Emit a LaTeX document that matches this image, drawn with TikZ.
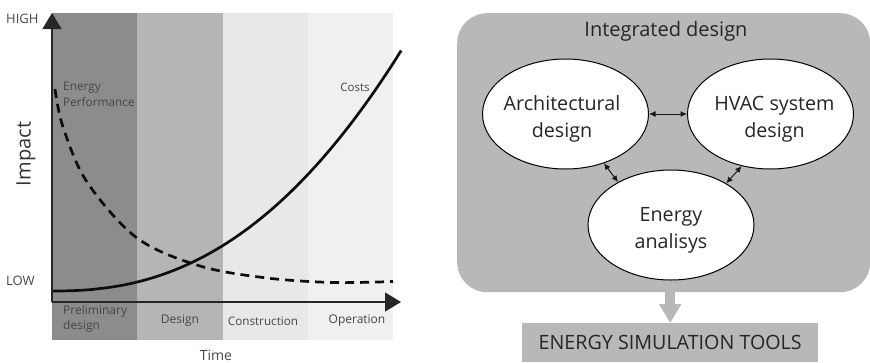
\documentclass[tikz,border=0pt]{standalone}
\usepackage{fontspec}
\setmainfont{Open Sans}
\usetikzlibrary{arrows.meta,shapes.geometric}
\tikzset{
  band/.style={minimum width=85.3pt,minimum height=327pt,inner sep=0pt,outer sep=0pt,anchor=north west},
  lab/.style={text=black!72,inner sep=0pt,align=center,font=\fontsize{12}{15.5}\selectfont},
  bubble/.style={ellipse,draw=black,line width=1pt,fill=white,minimum width=166pt,minimum height=110pt,inner sep=-20pt,text=black!85,align=center,font=\fontsize{19.7}{26.5}\selectfont},
  dbl/.style={{Latex[length=6.5pt,width=6pt]}-{Latex[length=6.5pt,width=6pt]},line width=1pt,black!90},
  axis/.style={-{Triangle[length=16pt,width=19pt]},line width=1.2pt,black!85},
  curve/.style={line width=2.7pt,black!95,line cap=butt}
}
\begin{document}
\begin{tikzpicture}[x=1pt,y=-1pt]
\useasboundingbox (0,0) rectangle (870,362);
\fill[white] (0,0) rectangle (870,362);
% bands
\node[band,fill=black!45] (b1) at (52,13) {};
\node[band,fill=black!29] (b2) at (137.3,13) {};
\node[band,fill=black!9] (b3) at (222.6,13) {};
\node[band,fill=black!6] (b4) at (307.9,13) {};
% curves
\draw[curve,dash pattern=on 9pt off 6pt] plot[smooth,tension=0.55] coordinates {(55,89)(63,127)(87,182)(137,238)(200,266)(267,278)(333,282.5)(393,281.5)};
\draw[curve] plot[domain=0.001:1,samples=70,smooth] ({52+349.5*\x},{291-241*pow(\x,2.33)});
% axes
\coordinate (orig) at (52,302);
\coordinate (ytop) at (52,13);
\coordinate (xend) at (401,302);
\draw[axis] (orig) -- (ytop);
\draw[axis] (orig) -- (xend);
% labels
\node[lab,anchor=west,font=\fontsize{13}{14}\selectfont] (high) at (6,18.5) {HIGH};
\node[lab,anchor=west,font=\fontsize{13}{14}\selectfont] (low) at (6,281) {LOW};
\node[lab,rotate=90,text=black!80,font=\fontsize{20}{22}\selectfont] (impact) at (26,154) {Impact};
\node[lab,anchor=north west,align=left,font=\fontsize{11.8}{16}\selectfont] (ep) at (63,82) {Energy\\Performance};
\node[lab,font=\fontsize{11.5}{14}\selectfont] (costs) at (355,87) {Costs};
\node[lab,anchor=west,align=left] (prelim) at (63,319) {Preliminary\\design};
\node[lab] (des) at (180,321) {Design};
\node[lab,font=\fontsize{11.7}{14}\selectfont] (con) at (263,321) {Construction};
\node[lab] (ope) at (357,321) {Operation};
\node[lab,font=\fontsize{14}{16}\selectfont] (time) at (216,355) {Time};
% panel
\node[draw=none,fill=black!28,rounded corners=30pt,minimum width=413pt,minimum height=279pt,inner sep=0pt,anchor=north west] (panel) at (457,13) {};
\node[text=black!85,inner sep=0pt,font=\fontsize{20}{22}\selectfont] (title) at (666,31) {Integrated design};
\node[bubble] (arch) at (565.5,114) {\rule{0pt}{25pt}\mbox{Architectural\kern7pt}\\\mbox{design\kern7pt}};
\node[bubble] (hvac) at (770.5,114) {\rule{0pt}{25pt}\mbox{\kern8pt HVAC system}\\\mbox{\kern8pt design}};
\node[bubble] (ener) at (671,225) {\rule{0pt}{25pt}Energy\\analisys};
\draw[dbl] (arch) -- (hvac);
\draw[dbl] (arch.-52) -- (ener.141);
\draw[dbl] (hvac.241) -- (ener.37.5);
% output box
\node[fill=black!28,minimum width=296pt,minimum height=39pt,inner sep=0pt,anchor=north west,text=black!85,font=\fontsize{19.7}{22}\selectfont] (tools) at (522,323) {ENERGY SIMULATION TOOLS};
\draw[-{Triangle[length=19pt,width=21pt]},line width=10pt,black!28] (panel.south -| tools.north) -- (tools.north);
\end{tikzpicture}
\end{document}
